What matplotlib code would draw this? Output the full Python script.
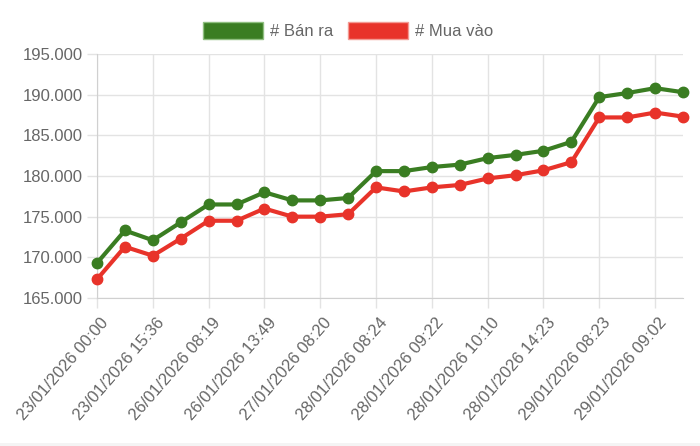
import matplotlib
matplotlib.use('Agg')
import matplotlib.pyplot as plt
from matplotlib.patches import Patch, Rectangle
from matplotlib.ticker import FuncFormatter, MultipleLocator
from matplotlib.transforms import ScaledTranslation

plt.rcParams['font.family'] = ['Liberation Sans', 'DejaVu Sans']

# values
sell = [169300, 173300, 172100, 174300, 176500, 176500, 178000, 177000, 177000, 177300, 180600,
        180600, 181100, 181400, 182200, 182600, 183100, 184200, 189700, 190200, 190800, 190300]
buy = [167300, 171300, 170200, 172300, 174500, 174500, 176000, 175000, 175000, 175300, 178600,
       178100, 178600, 178900, 179700, 180100, 180700, 181700, 187200, 187200, 187800, 187300]
# only every second label is shown on the chart
tick_labels = ['23/01/2026 00:00', '23/01/2026 15:36', '26/01/2026 08:19', '26/01/2026 13:49',
               '27/01/2026 08:20', '28/01/2026 08:24', '28/01/2026 09:22', '28/01/2026 10:10',
               '28/01/2026 14:23', '29/01/2026 08:23', '29/01/2026 09:02']

green = '#3a7d22'
red = '#e8332a'
grid_c = '#e3e3e3'
text_c = '#666666'

fig = plt.figure(figsize=(7, 4.46), dpi=100)
ax = fig.add_axes([97 / 700, 148 / 446, 586 / 700, 244 / 446])

x = list(range(len(sell)))
ax.plot(x, sell, color=green, lw=3, marker='o', ms=7.5, clip_on=False, zorder=4)
ax.plot(x, buy, color=red, lw=3, marker='o', ms=7.5, clip_on=False, zorder=3)

ax.set_xlim(0, len(sell) - 1)
ax.set_ylim(165000, 195000)
ax.yaxis.set_major_locator(MultipleLocator(5000))
ax.yaxis.set_major_formatter(FuncFormatter(lambda v, p: f'{int(v):,}'.replace(',', '.')))
ax.set_xticks(range(0, len(sell), 2))
ax.set_xticklabels(tick_labels, rotation=49, ha='right', va='center', rotation_mode='anchor')

ax.grid(True, color=grid_c, lw=1)
ax.set_axisbelow(True)
for s in ['top', 'right']:
    ax.spines[s].set_visible(False)
for s in ['left', 'bottom']:
    ax.spines[s].set_color('#d0d0d0')
ax.tick_params(axis='both', colors=grid_c, length=7, width=1, labelcolor=text_c, labelsize=12)
ax.tick_params(axis='y', pad=3)
ax.tick_params(axis='x', pad=9)

# shift the rotated labels a little to the right, like the original
shift = ScaledTranslation(9 / 100, 0, fig.dpi_scale_trans)
for lbl in ax.get_xticklabels():
    lbl.set_transform(lbl.get_transform() + shift)

handles = [Patch(facecolor=green, edgecolor='#8fbf80', lw=1),
           Patch(facecolor=red, edgecolor='#f39a93', lw=1)]
fig.legend(handles, ['# Bán ra', '# Mua vào'], loc='upper center', bbox_to_anchor=(0.497, 0.985),
           ncol=2, frameon=False, fontsize=12, labelcolor=text_c, handlelength=3.6,
           handleheight=1.2, handletextpad=0.4, columnspacing=0.9)

fig.patches.append(Rectangle((0, 0), 1, 3 / 446, transform=fig.transFigure,
                             facecolor='#f4f4f4', edgecolor='none'))

fig.savefig('out.png', dpi=100)
